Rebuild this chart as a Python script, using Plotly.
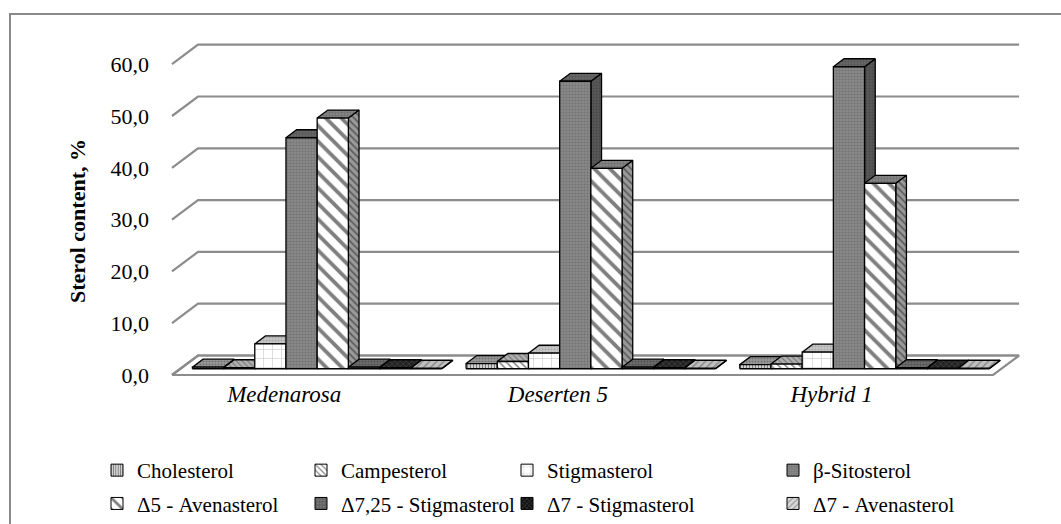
import plotly.graph_objects as go

# ---- data -------------------------------------------------------------
categories = ["Medenarosa", "Deserten 5", "Hybrid 1"]
sterols = ["Cholesterol", "Campesterol", "Stigmasterol", "β-Sitosterol",
           "Δ5 - Avenasterol", "Δ7,25 - Stigmasterol", "Δ7 - Stigmasterol",
           "Δ7 - Avenasterol"]
cholesterol = [0.3, 1.0, 0.8]
campesterol = [0.2, 1.4, 0.9]
stigmasterol = [4.8, 3.0, 3.2]
beta_sitosterol = [44.6, 55.5, 58.3]
d5_avenasterol = [48.4, 38.7, 35.8]
d725_stigmasterol = [0.3, 0.3, 0.2]
d7_stigmasterol = [0.2, 0.2, 0.1]
d7_avenasterol = [0.1, 0.1, 0.1]
series_values = [cholesterol, campesterol, stigmasterol, beta_sitosterol,
                 d5_avenasterol, d725_stigmasterol, d7_stigmasterol,
                 d7_avenasterol]
tick_values = [0, 10, 20, 30, 40, 50, 60]
tick_labels = ["0,0", "10,0", "20,0", "30,0", "40,0", "50,0", "60,0"]

# ---- geometry of the pseudo-3D box ------------------------------------
W, H = 1061, 524
PLOT_L, PLOT_R, PLOT_T, PLOT_B = 160, 1040, 30, 380
PX_PER_X = 273.7          # pixels per category slot
PX_PER_Y = 5.18           # pixels per percent
X0_PX, Y0_PX = 172, 375   # front-left floor corner
x_range = [(PLOT_L - X0_PX) / PX_PER_X, (PLOT_R - X0_PX) / PX_PER_X]
y_range = [(Y0_PX - PLOT_B) / PX_PER_Y, (Y0_PX - PLOT_T) / PX_PER_Y]
DX = 26 / PX_PER_X        # shift of the back wall in x units
DY = 19.5 / PX_PER_Y      # shift of the back wall in y units
N_CAT = len(categories)
N_SER = len(sterols)
BAR_W = 31.2 / PX_PER_X
GAP = (1 - N_SER * BAR_W) / 2
D_FRONT, D_BACK = 0.32, 0.73
SERIF = "Liberation Serif, Times New Roman, serif"


def proj(x, y, d):
    return x + d * DX, y + d * DY


def poly(pts):
    xs, ys = [], []
    for (x, y, d) in pts:
        px, py = proj(x, y, d)
        xs.append(px)
        ys.append(py)
    xs.append(xs[0])
    ys.append(ys[0])
    return xs, ys


# face styles: (bg, fg, shape, size, solidity)
front_styles = [
    ("#d0d0d0", "#222222", "|", 3, 0.35),
    ("#ffffff", "#111111", "\\", 5, 0.3),
    ("#ffffff", "#8a8a8a", "+", 9, 0.12),
    ("#8e8e8e", "#5e5e5e", ".", 3, 0.5),
    ("#ffffff", "#000000", "\\", 11, 0.35),
    ("#777777", "#222222", "+", 4, 0.3),
    ("#151515", "#666666", "x", 4, 0.3),
    ("#dadada", "#555555", "/", 5, 0.3),
]
top_styles = [
    ("#9a9a9a", "#4a4a4a", ".", 3, 0.4),
    ("#b0b0b0", "#444444", "\\", 4, 0.3),
    ("#c8c8c8", "#888888", ".", 3, 0.4),
    ("#6a6a6a", "#444444", ".", 3, 0.5),
    ("#8a8a8a", "#555555", ".", 3, 0.5),
    ("#747474", "#333333", ".", 3, 0.5),
    ("#222222", "#6a6a6a", "x", 4, 0.3),
    ("#c0c0c0", "#555555", "/", 5, 0.3),
]
side_styles = [
    ("#777777", "#333333", "|", 3, 0.35),
    ("#888888", "#333333", "\\", 4, 0.3),
    ("#aaaaaa", "#777777", ".", 3, 0.4),
    ("#5c5c5c", "#3a3a3a", ".", 3, 0.5),
    ("#9a9a9a", "#222222", "\\", 5, 0.35),
    ("#555555", "#222222", ".", 3, 0.4),
    ("#111111", "#555555", "x", 4, 0.3),
    ("#999999", "#444444", "/", 5, 0.3),
]

fig = go.Figure()

# floor
fx, fy = poly([(0, 0, 0), (N_CAT, 0, 0), (N_CAT, 0, 1), (0, 0, 1)])
fig.add_trace(go.Scatter(x=fx, y=fy, mode="lines", fill="toself",
                         fillcolor="#ffffff",
                         line=dict(color="#8c8c8c", width=2.2),
                         hoverinfo="skip", showlegend=False))

# gridlines on the side and back walls
gx, gy = [], []
for t in tick_values:
    for (x, d) in [(0, 0), (0, 1), (N_CAT, 1)]:
        px, py = proj(x, t, d)
        gx.append(px)
        gy.append(py)
    gx.append(None)
    gy.append(None)
fig.add_trace(go.Scatter(x=gx, y=gy, mode="lines",
                         line=dict(color="#8c8c8c", width=2.2),
                         hoverinfo="skip", showlegend=False))


def face_trace(xs, ys, style):
    bg, fg, shape, size, sol = style
    return go.Scatter(
        x=xs, y=ys, mode="lines", fill="toself", fillcolor=bg,
        fillpattern=dict(shape=shape, fgcolor=fg, bgcolor=bg, size=size,
                         solidity=sol),
        line=dict(color="#000000", width=1.3),
        hoverinfo="skip", showlegend=False)


# bars, painted left to right so nearer faces cover farther ones
for s in range(N_SER):
    vals = series_values[s]
    faces = {"side": ([], []), "top": ([], []), "front": ([], [])}
    for c in range(N_CAT):
        v = vals[c]
        xa = c + GAP + s * BAR_W
        xb = xa + BAR_W
        shapes = {
            "side": [(xb, 0, D_FRONT), (xb, v, D_FRONT), (xb, v, D_BACK), (xb, 0, D_BACK)],
            "top": [(xa, v, D_FRONT), (xb, v, D_FRONT), (xb, v, D_BACK), (xa, v, D_BACK)],
            "front": [(xa, 0, D_FRONT), (xb, 0, D_FRONT), (xb, v, D_FRONT), (xa, v, D_FRONT)],
        }
        for k, pts in shapes.items():
            px, py = poly(pts)
            faces[k][0].extend(px + [None])
            faces[k][1].extend(py + [None])
    fig.add_trace(face_trace(*faces["side"], side_styles[s]))
    fig.add_trace(face_trace(*faces["top"], top_styles[s]))
    fig.add_trace(face_trace(*faces["front"], front_styles[s]))

# legend entries (four columns, two rows); the swatch bars sit off-range
legend_names = ["legend", "legend2", "legend3", "legend4"]
for s in range(N_SER):
    bg, fg, shape, size, sol = front_styles[s]
    fig.add_trace(go.Bar(
        x=[-5], y=[1], width=[0.1], name=sterols[s],
        legendgroup=f"g{s}",
        marker=dict(color=bg,
                    pattern=dict(shape=shape, fgcolor=fg, bgcolor=bg,
                                 size=size, solidity=sol),
                    line=dict(color="#000000", width=1)),
        legend=legend_names[s % 4], hoverinfo="skip"))

legend_font = dict(family=SERIF, size=21, color="#000000")
legend_text_px = [137, 341, 547, 813]
for i, name in enumerate(legend_names):
    fig.layout[name] = dict(
        xref="container", yref="container",
        x=(legend_text_px[i] - 40) / W, y=1 - 450 / H,
        xanchor="left", yanchor="top",
        orientation="v", font=legend_font,
        bgcolor="rgba(0,0,0,0)", borderwidth=0,
        traceorder="grouped", tracegroupgap=3)

# outer frame
fig.add_shape(type="rect", xref="paper", yref="paper",
              x0=(10 - PLOT_L) / (PLOT_R - PLOT_L),
              x1=(1075 - PLOT_L) / (PLOT_R - PLOT_L),
              y0=(PLOT_B - 540) / (PLOT_B - PLOT_T),
              y1=(PLOT_B - 14) / (PLOT_B - PLOT_T),
              line=dict(color="#8a8a8a", width=2), layer="below")

# y-axis title
fig.add_annotation(
    text="<b>Sterol content, %</b>", textangle=-90,
    xref="paper", x=(77 - PLOT_L) / (PLOT_R - PLOT_L),
    yref="paper", y=(PLOT_B - 221) / (PLOT_B - PLOT_T),
    xanchor="center", yanchor="middle", showarrow=False,
    font=dict(family=SERIF, size=22, color="#000000"))

fig.update_layout(
    width=W, height=H,
    font=dict(family=SERIF, color="#000000"),
    margin=dict(l=PLOT_L, r=W - PLOT_R, t=PLOT_T, b=H - PLOT_B,
                autoexpand=False),
    paper_bgcolor="#ffffff", plot_bgcolor="rgba(0,0,0,0)",
    showlegend=True, barmode="overlay",
    xaxis=dict(type="linear", range=x_range, autorange=False,
               showgrid=False, zeroline=False,
               showline=False, ticks="",
               tickvals=[c + 0.41 for c in range(N_CAT)],
               ticktext=[f"<i>{c}</i>" for c in categories],
               tickfont=dict(family=SERIF, size=23, color="#000000"),
               ticklabelstandoff=-2, fixedrange=True),
    yaxis=dict(type="linear", range=y_range, autorange=False,
               showgrid=False, zeroline=False,
               showline=False, ticks="",
               tickvals=tick_values, ticktext=tick_labels,
               tickfont=dict(family=SERIF, size=22, color="#000000"),
               ticklabelstandoff=10, fixedrange=True),
)

fig.write_html("out.html")
